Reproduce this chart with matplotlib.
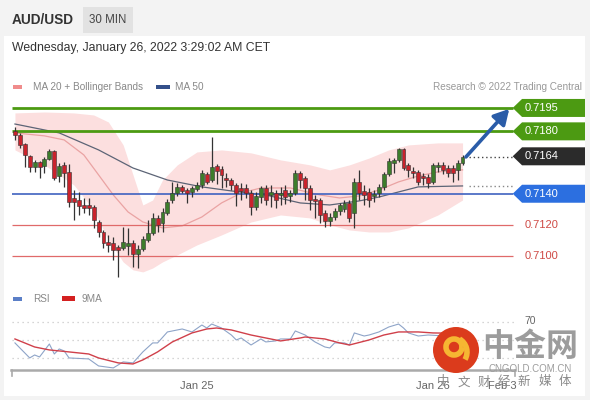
import numpy as np
import matplotlib
matplotlib.use("Agg")
import matplotlib.pyplot as plt
from matplotlib.patches import Rectangle, Polygon, Circle, Arc

plt.rcParams['font.family'] = ['Liberation Sans', 'Noto Sans CJK SC', 'DejaVu Sans']

# 30 min candles, AUD/USD
opens = [0.71803, 0.71777, 0.71719, 0.71642, 0.71572, 0.71604, 0.71578, 0.71623, 0.71674, 0.71514,
         0.71585, 0.71540, 0.71373, 0.71360, 0.71328, 0.71328, 0.71315, 0.71219, 0.71155, 0.71091,
         0.71085, 0.71059, 0.71053, 0.71065, 0.71085, 0.71014, 0.71046, 0.71104, 0.71149, 0.71245,
         0.71213, 0.71277, 0.71360, 0.71405, 0.71444, 0.71424, 0.71412, 0.71431, 0.71456, 0.71527,
         0.71488, 0.71578, 0.71559, 0.71501, 0.71488, 0.71456, 0.71437, 0.71437, 0.71405, 0.71315,
         0.71379, 0.71437, 0.71392, 0.71405, 0.71392, 0.71424, 0.71386, 0.71405, 0.71533, 0.71501,
         0.71437, 0.71367, 0.71360, 0.71277, 0.71226, 0.71251, 0.71290, 0.71303, 0.71341, 0.71277,
         0.71476, 0.71418, 0.71412, 0.71386, 0.71405, 0.71444, 0.71527, 0.71597, 0.71617, 0.71687,
         0.71585, 0.71546, 0.71540, 0.71514, 0.71508, 0.71476, 0.71572, 0.71585, 0.71565, 0.71565,
         0.71553, 0.71597]
highs = [0.71828, 0.71790, 0.71726, 0.71649, 0.71617, 0.71610, 0.71636, 0.71687, 0.71681, 0.71597,
         0.71604, 0.71591, 0.71424, 0.71412, 0.71373, 0.71373, 0.71328, 0.71232, 0.71168, 0.71136,
         0.71123, 0.71072, 0.71187, 0.71181, 0.71104, 0.71072, 0.71130, 0.71232, 0.71277, 0.71264,
         0.71309, 0.71367, 0.71476, 0.71469, 0.71456, 0.71437, 0.71450, 0.71476, 0.71553, 0.71540,
         0.71764, 0.71591, 0.71578, 0.71533, 0.71501, 0.71469, 0.71469, 0.71463, 0.71424, 0.71412,
         0.71450, 0.71456, 0.71456, 0.71424, 0.71444, 0.71456, 0.71424, 0.71553, 0.71546, 0.71514,
         0.71456, 0.71392, 0.71373, 0.71296, 0.71277, 0.71309, 0.71341, 0.71360, 0.71360, 0.71501,
         0.71553, 0.71456, 0.71437, 0.71424, 0.71463, 0.71540, 0.71629, 0.71629, 0.71694, 0.71694,
         0.71597, 0.71572, 0.71553, 0.71533, 0.71527, 0.71597, 0.71604, 0.71604, 0.71585, 0.71585,
         0.71617, 0.71649]
lows = [0.71745, 0.71694, 0.71572, 0.71540, 0.71540, 0.71501, 0.71533, 0.71617, 0.71488, 0.71476,
        0.71444, 0.71315, 0.71232, 0.71264, 0.71277, 0.71264, 0.71181, 0.71123, 0.71053, 0.71027,
        0.70976, 0.70867, 0.71040, 0.71008, 0.70931, 0.70924, 0.71033, 0.71091, 0.71136, 0.71155,
        0.71155, 0.71264, 0.71341, 0.71386, 0.71405, 0.71341, 0.71379, 0.71418, 0.71437, 0.71463,
        0.71476, 0.71463, 0.71437, 0.71444, 0.71424, 0.71322, 0.71360, 0.71373, 0.71264, 0.71296,
        0.71341, 0.71328, 0.71315, 0.71309, 0.71328, 0.71335, 0.71347, 0.71392, 0.71437, 0.71360,
        0.71296, 0.71245, 0.71213, 0.71187, 0.71194, 0.71232, 0.71264, 0.71283, 0.71219, 0.71181,
        0.71360, 0.71328, 0.71315, 0.71347, 0.71379, 0.71424, 0.71514, 0.71533, 0.71604, 0.71553,
        0.71508, 0.71501, 0.71456, 0.71456, 0.71437, 0.71463, 0.71540, 0.71527, 0.71508, 0.71476,
        0.71488, 0.71585]
closes = [0.71777, 0.71713, 0.71649, 0.71572, 0.71604, 0.71572, 0.71623, 0.71674, 0.71501, 0.71578,
          0.71533, 0.71347, 0.71347, 0.71322, 0.71309, 0.71309, 0.71232, 0.71155, 0.71085, 0.71072,
          0.71040, 0.71040, 0.71091, 0.71085, 0.71014, 0.71046, 0.71110, 0.71149, 0.71245, 0.71200,
          0.71283, 0.71347, 0.71405, 0.71444, 0.71418, 0.71405, 0.71437, 0.71456, 0.71533, 0.71476,
          0.71572, 0.71546, 0.71521, 0.71488, 0.71456, 0.71405, 0.71418, 0.71405, 0.71315, 0.71386,
          0.71437, 0.71360, 0.71412, 0.71360, 0.71405, 0.71379, 0.71405, 0.71533, 0.71488, 0.71437,
          0.71360, 0.71354, 0.71264, 0.71226, 0.71251, 0.71290, 0.71328, 0.71341, 0.71245, 0.71476,
          0.71405, 0.71392, 0.71360, 0.71399, 0.71444, 0.71527, 0.71610, 0.71617, 0.71687, 0.71565,
          0.71553, 0.71533, 0.71476, 0.71501, 0.71469, 0.71585, 0.71585, 0.71553, 0.71533, 0.71533,
          0.71597, 0.71636]

# Bollinger bands (20) at some candle positions
band_idx = [0, 6, 12, 16, 19, 22, 24, 26, 28, 30, 33, 37, 42, 48, 54, 60, 64, 68, 72, 76, 80, 86, 91]
band_upper = [0.71918, 0.71924, 0.71918, 0.71905, 0.71860, 0.71713, 0.71521, 0.71328, 0.71360, 0.71488,
              0.71585, 0.71668, 0.71681, 0.71662, 0.71617, 0.71585, 0.71553, 0.71585, 0.71629, 0.71681,
              0.71713, 0.71726, 0.71726]
band_lower = [0.71681, 0.71585, 0.71456, 0.71296, 0.71104, 0.70963, 0.70912, 0.70899, 0.70924, 0.70963,
              0.71008, 0.71072, 0.71136, 0.71219, 0.71264, 0.71245, 0.71200, 0.71168, 0.71155, 0.71155,
              0.71181, 0.71264, 0.71360]
ma20_idx = [0, 6, 10, 14, 17, 20, 23, 26, 30, 34, 38, 42, 46, 50, 56, 62, 66, 70, 74, 78, 82, 86, 91]
ma20 = [0.71790, 0.71771, 0.71745, 0.71649, 0.71521, 0.71392, 0.71283, 0.71219, 0.71181, 0.71194,
        0.71251, 0.71341, 0.71405, 0.71437, 0.71437, 0.71392, 0.71373, 0.71386, 0.71424, 0.71476,
        0.71514, 0.71540, 0.71553]
ma50_idx = [0, 9, 17, 24, 31, 38, 44, 51, 58, 64, 70, 74, 82, 91]
ma50 = [0.71847, 0.71790, 0.71681, 0.71565, 0.71488, 0.71444, 0.71418, 0.71392, 0.71341, 0.71328,
        0.71354, 0.71379, 0.71444, 0.71450]

# RSI pane
rsi_idx = [0, 3, 4, 5, 7, 8, 9, 10, 11, 15, 17, 20, 22, 24, 26, 28, 29, 31, 34, 36, 38, 39, 40, 42,
           44, 45, 46, 48, 50, 51, 53, 54, 56, 57, 59, 61, 63, 64, 65, 67, 68, 69, 71, 72, 74, 76,
           78, 79, 80, 82, 84, 88, 91]
rsi = [46.4, 29.7, 33.0, 30.8, 45.2, 34.1, 39.7, 37.5, 29.7, 28.6, 20.8, 18.6, 25.3, 24.2, 36.4,
       46.4, 46.4, 58.6, 61.9, 58.6, 66.3, 63.0, 67.4, 63.0, 55.2, 49.7, 51.9, 44.1, 50.8, 47.5,
       48.6, 50.8, 50.8, 59.7, 55.2, 47.5, 41.9, 40.8, 46.4, 46.4, 44.1, 57.5, 54.1, 55.2, 58.6,
       64.1, 67.4, 63.0, 57.5, 54.1, 55.2, 54.0, 62.0]
rsi_ma_idx = [0, 4, 7, 11, 15, 17, 21, 24, 26, 29, 32, 36, 39, 41, 44, 48, 51, 54, 58, 59, 63,
              66, 68, 72, 75, 78, 82, 85, 91]
rsi_ma = [50.8, 41.9, 38.6, 36.4, 34.1, 29.7, 24.2, 23.0, 27.5, 36.4, 47.5, 57.5, 61.9, 63.0,
          60.8, 55.2, 51.9, 48.6, 51.9, 53.0, 50.8, 46.4, 44.1, 49.7, 55.2, 58.6, 58.6, 57.5, 57.0]

levels = [0.7195, 0.7180, 0.7164, 0.7140, 0.7120, 0.7100]
level_labels = ["0.7195", "0.7180", "0.7164", "0.7140", "0.7120", "0.7100"]
xtick_pos = [37, 85, 99]
xtick_labels = ["Jan 25", "Jan 26", "Feb 3"]

GREEN = '#4c9a12'
BLUE = '#2c6fe0'
RED = '#e06a6a'

fig = plt.figure(figsize=(5.9, 4.0), dpi=100, facecolor='#f3f3f3')

# background / header in pixel coords
bg = fig.add_axes([0, 0, 1, 1], zorder=0)
bg.set_xlim(0, 590)
bg.set_ylim(400, 0)
bg.axis('off')
bg.add_patch(Rectangle((4, 36), 581, 360, facecolor='white', edgecolor='none'))
bg.text(12, 20, "AUD/USD", fontsize=9.8, fontweight='bold', color='#333333', va='center')
bg.add_patch(Rectangle((83, 7), 50, 26, facecolor='#e2e2e2', edgecolor='none'))
bg.text(108, 20, "30 MIN", fontsize=8.3, color='#444444', va='center', ha='center')
bg.text(12, 48, "Wednesday, January 26, 2022 3:29:02 AM CET", fontsize=8.8, color='#333333', va='center')
bg.add_patch(Rectangle((13, 84.5), 9, 4, facecolor='#f08c8c', edgecolor='none'))
bg.text(33, 86.5, "MA 20 + Bollinger Bands", fontsize=7.2, color='#888888', va='center')
bg.add_patch(Rectangle((156, 84.5), 14, 4, facecolor='#34508a', edgecolor='none'))
bg.text(175, 86.5, "MA 50", fontsize=7.2, color='#888888', va='center')
bg.text(582, 86.5, "Research \u00a9 2022 Trading Central", fontsize=7.2, color='#999999', va='center', ha='right')
bg.add_patch(Rectangle((13, 296.5), 9, 4, facecolor='#5b7fc7', edgecolor='none'))
bg.text(33, 298.5, "RSI", fontsize=7.2, color='#888888', va='center')
bg.add_patch(Rectangle((62, 296), 13, 5, facecolor='#d42020', edgecolor='none'))
bg.text(82, 298.5, "9MA", fontsize=7.2, color='#888888', va='center')
bg.plot([11, 515], [370, 370], color='#aaaaaa', lw=1.8)
bg.plot([11.5, 11.5], [370, 376], color='#aaaaaa', lw=1.2)
bg.plot([515, 515], [370, 376], color='#aaaaaa', lw=1.2)
bg.text(530, 321, "70", fontsize=7.5, color='#666666', va='center', ha='center')

# price pane
xmin, xmax = -0.6, 115.9
line_end = 101.2
ax = fig.add_axes([12 / 590, 1 - 285 / 400, 573 / 590, 190 / 400], zorder=1)
ax.set_facecolor('none')
ax.set_xlim(xmin, xmax)
ax.set_ylim(0.70815, 0.72033)
ax.axis('off')

ax.fill_between(band_idx, band_lower, band_upper, color='#fcdfdf', lw=0, zorder=1)
ax.plot(ma20_idx, ma20, color='#eaa3a3', lw=0.9, zorder=2)
ax.plot(ma50_idx, ma50, color='#5c6476', lw=0.9, zorder=2)

ax.hlines([0.7195, 0.7180], xmin, line_end, color=GREEN, lw=2, zorder=2)
ax.hlines(0.7140, xmin, line_end, color='#3f62c0', lw=1.2, zorder=2)
ax.hlines([0.7120, 0.7100], xmin, line_end, color=RED, lw=0.9, zorder=2)
ax.hlines(closes[-1], len(closes) + 0.3, line_end, color='#444444', lw=1, linestyles=(0, (1, 2)), zorder=2)
ax.hlines(ma50[-1], len(closes) + 0.3, line_end, color='#888888', lw=1, linestyles=(0, (1, 2)), zorder=2)

x = np.arange(len(closes))
o = np.array(opens)
c = np.array(closes)
up = c >= o
ax.vlines(x, lows, highs, color='#333333', lw=0.9, zorder=3)
body_bottom = np.minimum(o, c)
body_h = np.maximum(np.abs(c - o), 0.00004)
ax.bar(x, body_h, bottom=body_bottom, width=0.8,
       color=np.where(up, '#3d7d2b', '#c9232c'), edgecolor='#333333', linewidth=0.4, zorder=4)

# level tags
half = 9 / 15600
tag_colors = {"0.7195": GREEN, "0.7180": GREEN, "0.7164": '#2b2b2b', "0.7140": BLUE}
for lv, lab in zip(levels, level_labels):
    if lab in tag_colors:
        pts = [(line_end, lv), (line_end + 1.9, lv + half), (xmax, lv + half),
               (xmax, lv - half), (line_end + 1.9, lv - half)]
        ax.add_patch(Polygon(pts, closed=True, facecolor=tag_colors[lab], edgecolor='none',
                             clip_on=False, zorder=5))
        ax.text(line_end + 2.5, lv, lab, color='white', fontsize=8, va='center', zorder=6)
    else:
        ax.text(line_end + 2.5, lv, lab, color='#cf4a45', fontsize=8, va='center', zorder=6)

ax.annotate('', xy=(100.5, 0.71944), xytext=(91.7, 0.71636),
            arrowprops=dict(arrowstyle='-|>,head_length=0.9,head_width=0.5',
                            color='#2a5ca8', lw=2.6, shrinkA=0, shrinkB=0), zorder=6)

# RSI pane
rax = fig.add_axes([12 / 590, 1 - 370 / 400, 573 / 590, 60 / 400], zorder=1)
rax.set_facecolor('none')
rax.set_xlim(xmin, xmax)
rax.set_ylim(16.3, 83)
for s in rax.spines.values():
    s.set_visible(False)
rax.set_yticks([])
for g in [70, 50, 30]:
    rax.hlines(g, xmin, 101.6, color='#c8c8c8', lw=0.9, linestyles=(0, (1, 3)))
rax.plot(rsi_idx, rsi, color='#8ea4c8', lw=0.8)
rax.plot(rsi_ma_idx, rsi_ma, color='#d0404a', lw=1.0)
rax.set_xticks(xtick_pos)
rax.set_xticklabels(xtick_labels, fontsize=8, color='#666666')
rax.tick_params(axis='x', length=0, pad=8)

# watermark
top = fig.add_axes([0, 0, 1, 1], zorder=5)
top.set_xlim(0, 590)
top.set_ylim(400, 0)
top.axis('off')
top.set_facecolor('none')
top.add_patch(Circle((456, 350), 23, facecolor='#db3b1c', edgecolor='none'))
top.add_patch(Arc((454, 347), 16, 16, theta1=0, theta2=360, color='#f6b632', lw=4))
top.add_patch(Arc((452, 352), 30, 30, theta1=300, theta2=30, color='#f6b632', lw=4))
top.text(530, 347, "中金网", fontsize=23, color='#9c9c9c', fontweight='bold',
         ha='center', va='center', family=['Noto Sans CJK SC'])
top.text(530, 369, "CNGOLD.COM.CN", fontsize=7, color='#9c9c9c', ha='center', va='center')
for i, ch in enumerate("中文财经新媒体"):
    top.text(443 + i * 20.3, 382, ch, fontsize=9, color='#8a8a8a', ha='center', va='center',
             family=['Noto Sans CJK SC'])

plt.savefig("out.png", dpi=100, facecolor=fig.get_facecolor())
plt.close()
